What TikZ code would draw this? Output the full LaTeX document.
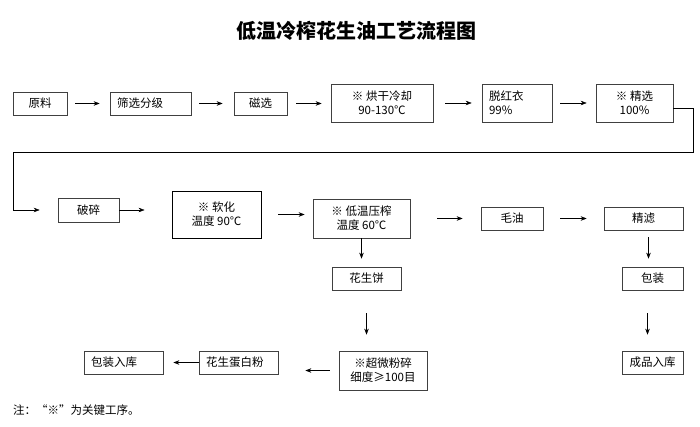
\documentclass[tikz,border=0pt]{standalone}
\usepackage{fontspec}
\setmainfont{Noto Sans CJK SC}
\usepackage{tikz}
\usetikzlibrary{arrows.meta}
\tikzset{>={Stealth[length=6pt,width=4.5pt]}}
\tikzset{
  stepbox/.style={draw=black!75, line width=0.7pt, minimum height=23pt,
    inner sep=0pt, align=center, font=\fontsize{11.5}{14}\selectfont},
  leftbox/.style={stepbox, inner xsep=7pt, text width=#1, align=left},
  gap/.style 2 args={shorten <=#1pt, shorten >=#2pt}
}

\begin{document}
\begin{tikzpicture}[x=1pt,y=-1pt]
            \useasboundingbox (0,0) rectangle (700,427);

            \node (title) at (356,31) {\fontsize{20}{22}\selectfont\bfseries 低温冷榨花生油工艺流程图};

            \node[stepbox, minimum width=54pt] (yuanliao) at (40,103.5) {原料};
            \node[leftbox=67pt] (shaixuan) at (150.5,103.5) {筛选分级};
            \node[stepbox, minimum width=53pt] (cixuan) at (260.5,103.5) {磁选};
            \node[stepbox, minimum width=102pt, minimum height=38pt] (honggan) at (382,103) {※ 烘干冷却\\90-130℃};
            \node[leftbox=56pt, minimum height=38pt] (tuohong) at (517,103) {脱红衣\\99\%};
            \node[stepbox, minimum width=77pt, minimum height=38pt] (jingxuan) at (634.5,103) {※ 精选\\100\%};

            \node[stepbox, minimum width=61pt, minimum height=24pt] (posui) at (88.5,210) {破碎};
            \node[stepbox, line width=0.9pt, draw=black, minimum width=89pt, minimum height=47pt] (ruanhua) at (216.5,214.5) {※ 软化\\温度 90℃};
            \node[stepbox, minimum width=97pt, minimum height=39pt] (yazha) at (361.5,218.5) {※ 低温压榨\\温度 60℃};
            \node[stepbox, minimum width=62pt] (maoyou) at (512,218.5) {毛油};
            \node[stepbox, minimum width=79pt] (jinglv) at (643.5,218.5) {精滤};

            \node[stepbox, minimum width=69pt] (huashengbing) at (366.5,278.5) {花生饼};
            \node[stepbox, minimum width=61pt] (baozhuang) at (652.5,278.5) {包装};

            \node[stepbox, minimum width=88pt, minimum height=39pt] (fensui) at (383,370.5) {※超微粉碎\\细度≥100目};
            \node[leftbox=65pt] (danbaifen) at (238.5,362.5) {花生蛋白粉};
            \node[leftbox=65pt] (ruku) at (123.5,362.5) {包装入库};
            \node[stepbox, minimum width=61pt] (chengpin) at (652.5,362.5) {成品入库};

            \node[anchor=west, inner sep=0pt, font=\fontsize{11.5}{14}\selectfont] (note) at (13,410) {注：“※”为关键工序。};

            \coordinate (bend) at (13,152);

            \draw[->, gap={8}{10}] (yuanliao.east) -- (yuanliao.east -| shaixuan.west);
            \draw[->, gap={8}{11}] (shaixuan.east) -- (shaixuan.east -| cixuan.west);
            \draw[->, gap={9}{9}] (cixuan.east) -- (cixuan.east -| honggan.west);
            \draw[->, gap={12}{10}] (honggan.east) -- (honggan.east -| tuohong.west);
            \draw[->, gap={8}{9}] (tuohong.east) -- (tuohong.east -| jingxuan.west);
            \draw[->, shorten >=18pt] ([yshift=-5pt]jingxuan.east) -- ++(20,0) |- (bend) |- (posui.west);

            \draw[->, gap={0}{27}] (posui.east) -- (posui.east -| ruanhua.west);
            \draw[->, gap={17}{8}] (ruanhua.east) -- (ruanhua.east -| yazha.west);
            \draw[->, gap={27}{18}] (yazha.east) -- (yazha.east -| maoyou.west);
            \draw[->, gap={17}{17}] (maoyou.east) -- (maoyou.east -| jinglv.west);
            \draw[->, gap={7}{8}] ([xshift=5pt]jinglv.south) -- ([xshift=5pt]jinglv.south |- baozhuang.north);
            \draw[->, gap={0}{8}] (yazha.south) -- (yazha.south |- huashengbing.north);

            \draw[->, gap={23}{16}] (huashengbing.south) -- (huashengbing.south |- fensui.north);
            \draw[->, gap={23}{16}] ([xshift=-5pt]baozhuang.south) -- ([xshift=-5pt]baozhuang.south |- chengpin.north);
            \draw[->, gap={9}{27}] (fensui.west) -- (fensui.west -| danbaifen.east);
            \draw[->, gap={0}{10}] (danbaifen.west) -- (danbaifen.west -| ruku.east);

        \end{tikzpicture}
\end{document}
